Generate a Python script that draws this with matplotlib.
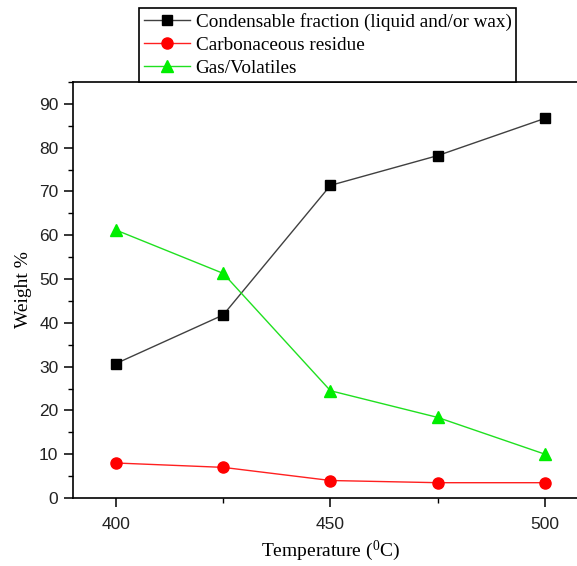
import matplotlib
matplotlib.use("Agg")
import matplotlib.pyplot as plt
from matplotlib.ticker import MultipleLocator

temperature = [400, 425, 450, 475, 500]
condensable = [30.7, 41.8, 71.4, 78.2, 86.7]
carbonaceous = [8.0, 7.0, 4.0, 3.5, 3.5]
gas_volatiles = [61.2, 51.3, 24.5, 18.4, 10.0]

labels = ["Condensable fraction (liquid and/or wax)",
          "Carbonaceous residue",
          "Gas/Volatiles"]

plt.rcParams["mathtext.fontset"] = "custom"
plt.rcParams["mathtext.rm"] = "Liberation Serif"
plt.rcParams["mathtext.it"] = "Liberation Serif:italic"

fig = plt.figure(figsize=(5.77, 5.66), dpi=100)
ax = fig.add_axes([0.1265, 0.1201, 0.8925, 0.735])

ax.plot(temperature, condensable, color="#404040", lw=1.0, marker="s",
        markersize=7, markerfacecolor="black", markeredgecolor="black", label=labels[0])
ax.plot(temperature, carbonaceous, color="#ff2020", lw=1.0, marker="o",
        markersize=8, markerfacecolor="red", markeredgecolor="red", label=labels[1])
ax.plot(temperature, gas_volatiles, color="#20e020", lw=1.0, marker="^",
        markersize=8.5, markerfacecolor="#00ee00", markeredgecolor="#00ee00", label=labels[2])

ax.set_xlim(390, 510)
ax.set_ylim(0, 95)
ax.xaxis.set_major_locator(MultipleLocator(50))
ax.xaxis.set_minor_locator(MultipleLocator(25))
ax.yaxis.set_major_locator(MultipleLocator(10))
ax.yaxis.set_minor_locator(MultipleLocator(5))
ax.tick_params(which="major", direction="out", length=6.5, width=1.1, labelsize=12.5, pad=4)
ax.tick_params(which="major", axis="x", pad=7)
ax.tick_params(which="minor", direction="out", length=3.5, width=1.0)
for lbl in ax.get_xticklabels() + ax.get_yticklabels():
    lbl.set_family("Liberation Sans")
    lbl.set_color("#222222")
for sp in ax.spines.values():
    sp.set_linewidth(1.2)

ax.set_xlabel(r"Temperature ($\mathrm{^{0}}$C)", family="Liberation Serif", fontsize=14, labelpad=5)
ax.set_ylabel("Weight %", family="Liberation Serif", fontsize=14, labelpad=5)

leg = fig.legend(loc="lower left", bbox_to_anchor=(139 / 577, (566 - 82) / 566),
                 borderaxespad=0, fancybox=False, framealpha=1, edgecolor="black",
                 prop={"family": "Liberation Serif", "size": 13.8},
                 handlelength=2.4, handletextpad=0.3, labelspacing=0.3,
                 borderpad=0.25)
leg.get_frame().set_linewidth(1.2)

fig.savefig("out.png", dpi=100)
